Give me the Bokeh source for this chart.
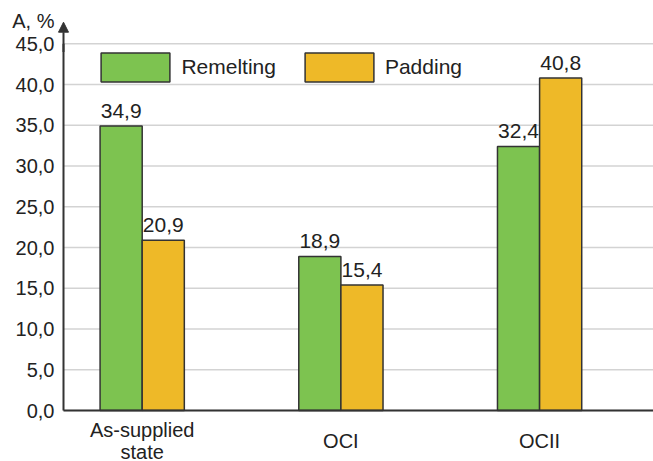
from bokeh.plotting import figure
from bokeh.models import Legend, LegendItem, Arrow, NormalHead, FixedTicker, Range1d
from bokeh.core.properties import value
from bokeh.embed import file_html
from bokeh.resources import INLINE

categories = ["As-supplied\nstate", "OCI", "OCII"]
remelting = [34.9, 18.9, 32.4]
padding = [20.9, 15.4, 40.8]
y_ticks = [0, 5, 10, 15, 20, 25, 30, 35, 40, 45]
y_tick_labels = ["0,0", "5,0", "10,0", "15,0", "20,0", "25,0", "30,0", "35,0", "40,0", "45,0"]
series_names = ["Remelting", "Padding"]
y_title = "A, %"

GREEN = "#7DC350"
YELLOW = "#EEB928"
OUTLINE = "#333333"
GRID = "#d3d3d3"
TXT = "#222222"
FONT = "Liberation Sans"

W, H = 653, 461
LEFT = 56            # frame left (px)
PX_X = 198.7         # px per category unit
PX_Y = 8.15          # px per value unit
ZERO_X, ZERO_Y = 141.7, 410   # canvas position of first group centre / value 0

xs = list(range(len(categories)))
bw = 0.212
X0 = (LEFT - ZERO_X) / PX_X
X1 = (W - ZERO_X) / PX_X
Y0 = -(H - ZERO_Y) / PX_Y
Y1 = ZERO_Y / PX_Y
AXIS_X = (63 - ZERO_X) / PX_X
ARROW_TOP = (ZERO_Y - 21.7) / PX_Y
TITLE_Y = (ZERO_Y - 20) / PX_Y

p = figure(width=W, height=H, output_backend="svg", toolbar_location=None,
           x_range=Range1d(X0, X1), y_range=Range1d(Y0, Y1), min_border=0)
p.min_border_left = LEFT
p.outline_line_color = None
p.background_fill_color = "white"
p.xgrid.visible = False
p.ygrid.visible = False
p.xaxis.visible = False

# grid lines
p.segment(x0=[AXIS_X] * len(y_ticks), y0=y_ticks, x1=[X1] * len(y_ticks), y1=y_ticks,
          line_color=GRID, line_width=1.5)

r_g = p.vbar(x=[x - bw / 2 for x in xs], top=remelting, width=bw, bottom=0,
             fill_color=GREEN, line_color=OUTLINE, line_width=1.5)
r_y = p.vbar(x=[x + bw / 2 for x in xs], top=padding, width=bw, bottom=0,
             fill_color=YELLOW, line_color=OUTLINE, line_width=1.5)

# axis lines
p.segment(x0=[AXIS_X, AXIS_X], y0=[0, 0], x1=[X1, AXIS_X], y1=[0, 45],
          line_color=OUTLINE, line_width=2)
p.add_layout(Arrow(end=NormalHead(size=10, fill_color=OUTLINE, line_color=OUTLINE),
                   x_start=AXIS_X, y_start=44, x_end=AXIS_X, y_end=ARROW_TOP,
                   line_color=OUTLINE, line_width=2))

fmt = lambda v: ("%.1f" % v).replace(".", ",")
p.text(x=[x - bw / 2 for x in xs], y=remelting, text=[fmt(v) for v in remelting],
       text_align="center", text_baseline="bottom", y_offset=-8,
       text_font=value(FONT), text_font_size="21px", text_color=TXT)
p.text(x=[x + bw / 2 for x in xs], y=padding, text=[fmt(v) for v in padding],
       text_align="center", text_baseline="bottom", y_offset=-8,
       text_font=value(FONT), text_font_size="21px", text_color=TXT)

# category labels
p.text(x=xs, y=[0] * len(xs), text=categories, y_offset=30,
       text_align="center", text_baseline="middle", text_line_height=1.0,
       text_font=value(FONT), text_font_size="20px", text_color=TXT)

legend = Legend(items=[LegendItem(label=series_names[0], renderers=[r_g]),
                       LegendItem(label=series_names[1], renderers=[r_y])],
                orientation="horizontal", location=(92.4 - LEFT, H - 84.5),
                glyph_width=86, glyph_height=36, label_standoff=3, spacing=20,
                padding=0, margin=0, border_line_color=None, background_fill_alpha=0,
                label_text_font=FONT, label_text_font_size="21px", label_text_color=TXT)
p.add_layout(legend)

# y axis: numeric labels plus the axis title as an extra labelled tick
yax = p.yaxis[0]
yax.ticker = FixedTicker(ticks=y_ticks + [TITLE_Y])
overrides = {t: l for t, l in zip(y_ticks, y_tick_labels)}
overrides[TITLE_Y] = y_title
yax.major_label_overrides = overrides
yax.axis_line_color = None
yax.major_tick_line_color = None
yax.minor_tick_line_color = None
yax.major_tick_out = 0
yax.major_tick_in = 0
yax.minor_tick_out = 0
yax.minor_tick_in = 0
yax.major_label_text_font = FONT
yax.major_label_text_color = TXT
yax.major_label_text_font_size = "20px"
yax.major_label_standoff = 2

open("out.html", "w").write(file_html(p, INLINE))
